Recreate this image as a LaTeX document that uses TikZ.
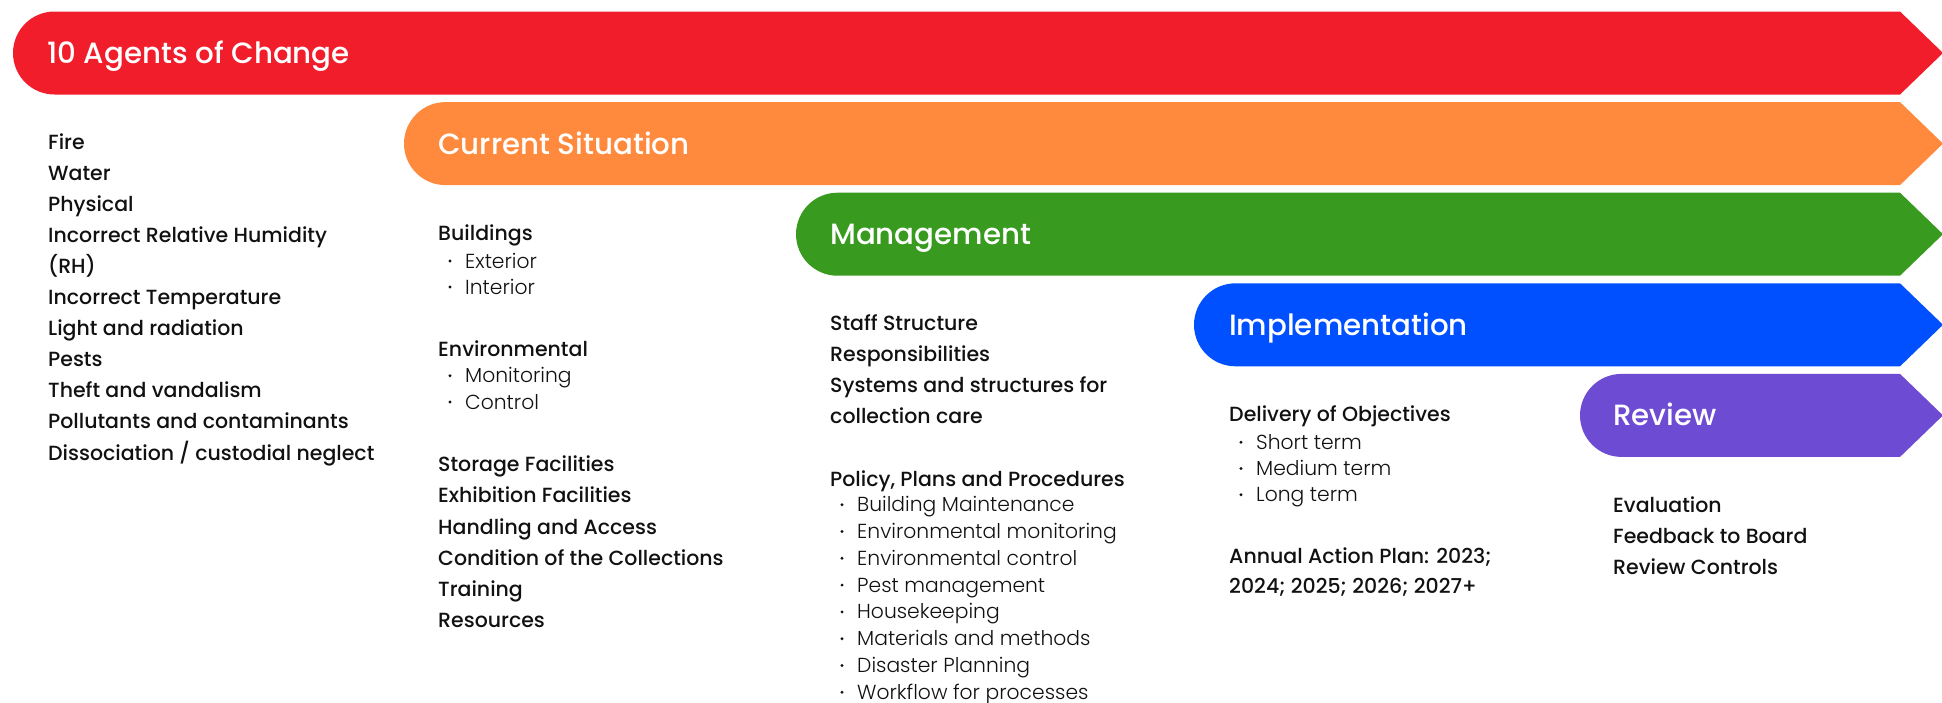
\documentclass[tikz,border=0pt]{standalone}
\usepackage{fontspec}
\setmainfont{Poppins}
\newfontfamily\medf{Poppins Medium}
\newfontfamily\lightf{Poppins Light}
\definecolor{cred}{RGB}{242,29,43}
\definecolor{corange}{RGB}{255,138,61}
\definecolor{cgreen}{RGB}{56,155,31}
\definecolor{cblue}{RGB}{0,80,255}
\definecolor{cpurple}{RGB}{110,75,211}
\definecolor{ink}{RGB}{17,17,17}
\tikzset{
  headsty/.style={anchor=base west, text=white, inner sep=0pt, font=\medf\fontsize{29.3}{35}\selectfont},
  mainitem/.style={anchor=base west, text=ink, inner sep=0pt, font=\medf\fontsize{20.5}{25}\selectfont},
  subitem/.style={anchor=base west, text=ink, inner sep=0pt, font=\lightf\fontsize{20.3}{25}\selectfont},
  dotsty/.style={circle, fill=ink, inner sep=0pt, minimum size=3.2pt},
}
\newcommand\mline[4]{\node[mainitem] (#1) at (#2,#3) {#4};}
\newcommand\sline[4]{\node[subitem] (#1) at ({#2+27},#3) {#4};\node[dotsty] (#1d) at ({#2+12},{#3-7}) {};}
% band: left x, top y, colour
\newcommand\band[3]{\fill[#3] (1900,#2) -- ({#1+41.5},#2) arc[start angle=90,end angle=270,radius=41.5pt] -- (1900,{#2+83}) -- (1943,{#2+41.5}) -- cycle;}
\begin{document}
\begin{tikzpicture}[x=1pt,y=-1pt]
\useasboundingbox (0,0) rectangle (1942,702);
\band{13}{11.5}{cred}
\band{404}{102.1}{corange}
\band{796}{192.7}{cgreen}
\band{1194}{283.3}{cblue}
\band{1580}{373.9}{cpurple}
\node[headsty] (h1) at (47,63.5) {10 Agents of Change};
\node[headsty] (h2) at (438,154.1) {Current Situation};
\node[headsty] (h3) at (830,244.7) {Management};
\node[headsty] (h4) at (1229,335.3) {Implementation};
\node[headsty] (h5) at (1613,425.9) {Review};
% column 1
\mline{a1}{48}{149.3}{Fire}
\mline{a2}{48}{180.4}{Water}
\mline{a3}{48}{211.4}{Physical}
\mline{a4}{48}{242.5}{Incorrect Relative Humidity}
\mline{a5}{48}{273.6}{(RH)}
\mline{a6}{48}{304.6}{Incorrect Temperature}
\mline{a7}{48}{335.7}{Light and radiation}
\mline{a8}{48}{366.8}{Pests}
\mline{a9}{48}{397.8}{Theft and vandalism}
\mline{a10}{48}{428.9}{Pollutants and contaminants}
\mline{a11}{48}{460}{Dissociation / custodial neglect}
% column 2
\mline{b1}{438}{240.7}{Buildings}
\sline{b2}{438}{268}{Exterior}
\sline{b3}{438}{294}{Interior}
\mline{b4}{438}{356.7}{Environmental}
\sline{b5}{438}{382.7}{Monitoring}
\sline{b6}{438}{409}{Control}
\mline{b7}{438}{471.7}{Storage Facilities}
\mline{b8}{438}{502.9}{Exhibition Facilities}
\mline{b9}{438}{534.1}{Handling and Access}
\mline{b10}{438}{565.3}{Condition of the Collections}
\mline{b11}{438}{596.5}{Training}
\mline{b12}{438}{627.7}{Resources}
% column 3
\mline{c1}{830}{330.7}{Staff Structure}
\mline{c2}{830}{361.6}{Responsibilities}
\mline{c3}{830}{392.4}{Systems and structures for}
\mline{c4}{830}{423.3}{collection care}
\mline{c5}{830}{486}{Policy, Plans and Procedures}
\sline{c6}{830}{511.7}{Building Maintenance}
\sline{c7}{830}{538.5}{Environmental monitoring}
\sline{c8}{830}{565.3}{Environmental control}
\sline{c9}{830}{592.1}{Pest management}
\sline{c10}{830}{618.9}{Housekeeping}
\sline{c11}{830}{645.7}{Materials and methods}
\sline{c12}{830}{672.5}{Disaster Planning}
\sline{c13}{830}{699.3}{Workflow for processes}
% column 4
\mline{d1}{1229}{421.7}{Delivery of Objectives}
\sline{d2}{1229}{449.3}{Short term}
\sline{d3}{1229}{475.5}{Medium term}
\sline{d4}{1229}{501.7}{Long term}
\mline{d5}{1229}{563.3}{Annual Action Plan: 2023;}
\mline{d6}{1229}{593.3}{2024; 2025; 2026; 2027+}
% column 5
\mline{e1}{1613}{512.3}{Evaluation}
\mline{e2}{1613}{543.3}{Feedback to Board}
\mline{e3}{1613}{574.3}{Review Controls}
\end{tikzpicture}
\end{document}
